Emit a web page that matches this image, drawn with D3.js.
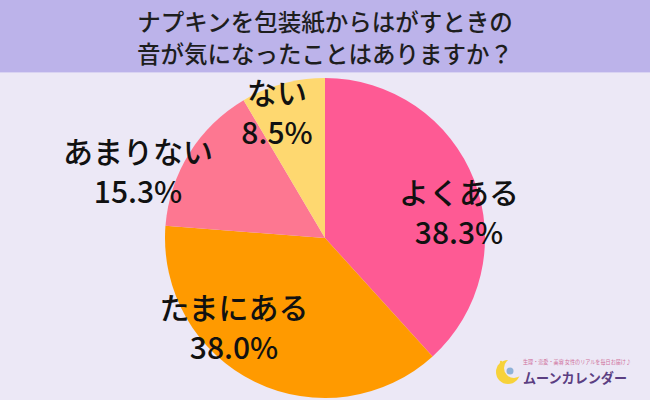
<!DOCTYPE html>
<html><head><meta charset="utf-8">
<script src="https://cdn.jsdelivr.net/npm/d3@7"></script>
<style>
html,body{margin:0;padding:0;background:#ece8f6;}
svg{display:block;}
text{font-family:"Noto Sans CJK JP","Noto Sans",sans-serif;}
</style></head>
<body>
<svg id="chart" width="650" height="400"></svg>
<script>
const titleLines = ["ナプキンを包装紙からはがすときの", "音が気になったことはありますか？"];
const categories = ["よくある", "たまにある", "あまりない", "ない"];
const values = [38.3, 38.0, 15.3, 8.5];
const valueLabels = ["38.3%", "38.0%", "15.3%", "8.5%"];
const colors = ["#fe5a94", "#ff9a00", "#fd7791", "#fed870"];
const labelPos = [[459, 204], [234, 319], [138, 163], [277, 104]];

const svg = d3.select("#chart");
svg.append("rect").attr("width", 650).attr("height", 400).attr("fill", "#ece8f6");
svg.append("rect").attr("width", 650).attr("height", 72).attr("fill", "#bcb3ea");
svg.append("line").attr("x1",0).attr("x2",650).attr("y1",72.5).attr("y2",72.5).attr("stroke","#d9d3f2").attr("stroke-width",1);

svg.selectAll("text.title").data(titleLines).join("text")
  .attr("class","title")
  .attr("x", 325).attr("y", (d,i) => 31 + i*32)
  .attr("text-anchor","middle")
  .attr("font-size", 23.5).attr("font-weight", 500).attr("fill","#1e1e1e")
  .text(d => d);

const cx = 325, cy = 238, r = 160;
const pie = d3.pie().sort(null).value(d => d);
const arc = d3.arc().innerRadius(0).outerRadius(r);
const g = svg.append("g").attr("transform", `translate(${cx},${cy})`);
g.selectAll("path").data(pie(values)).join("path")
  .attr("d", arc).attr("fill", (d,i) => colors[i]);

const lg = svg.append("g");
categories.forEach((c, i) => {
  const [x, y] = labelPos[i];
  lg.append("text").attr("x", x).attr("y", y).attr("text-anchor","middle")
    .attr("font-size", 30).attr("font-weight", 500).attr("fill","#111").text(c);
  lg.append("text").attr("x", x).attr("y", y + 40).attr("text-anchor","middle")
    .attr("font-size", 30).attr("font-weight", 500).attr("fill","#111").text(valueLabels[i]);
});

// logo
const logo = svg.append("g");
logo.append("circle").attr("cx", 508).attr("cy", 372).attr("r", 12).attr("fill", "#f7d23a");
logo.append("circle").attr("cx", 514).attr("cy", 368).attr("r", 10).attr("fill", "#ece8f6");
logo.append("circle").attr("cx", 510).attr("cy", 371).attr("r", 3.5).attr("fill", "#8fb2d8");
logo.append("circle").attr("cx", 501).attr("cy", 362).attr("r", 1.2).attr("fill", "#f7d23a");
logo.append("text").attr("x", 523).attr("y", 364).attr("font-size", 5.5).attr("fill", "#d0729c")
  .attr("textLength", 108).attr("lengthAdjust", "spacingAndGlyphs")
  .text("生理・恋愛・美容 女性のリアルを毎日お届け♪");
logo.append("text").attr("x", 523).attr("y", 383).attr("font-size", 13.5).attr("font-weight", 700).attr("fill", "#5b3e82")
  .attr("textLength", 104).attr("lengthAdjust", "spacingAndGlyphs")
  .text("ムーンカレンダー");
</script>
</body></html>
